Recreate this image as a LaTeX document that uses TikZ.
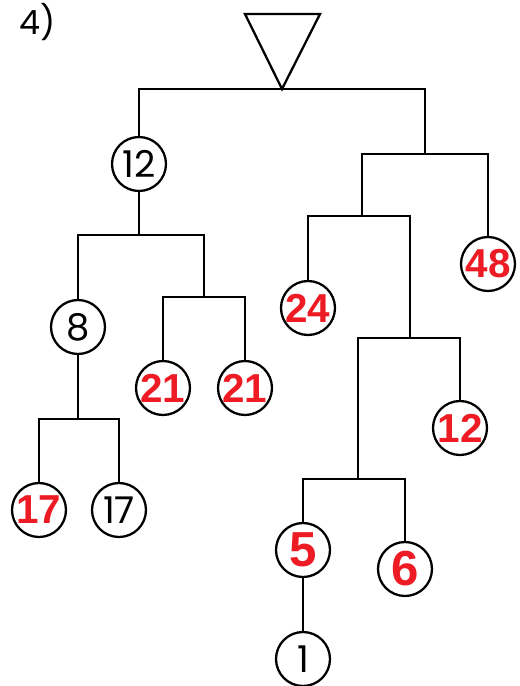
\documentclass[tikz,border=0pt]{standalone}
\usepackage{fontspec}
\setmainfont{Liberation Sans}
\newfontfamily\geofont{Poppins}
\usepackage{tikz}
\definecolor{MarkRed}{HTML}{ED1C24}

\begin{document}
\begin{tikzpicture}[x=0.02cm,y=-0.02cm,line width=1.3pt,
  ball/.style={draw,circle,minimum size=1.08cm,inner sep=0pt,fill=white},
  plainnum/.style={ball,font=\geofont\fontsize{21}{21}\selectfont},
  rednum/.style={ball,text=MarkRed,font=\bfseries\fontsize{23}{23}\selectfont},
  bignum/.style={ball,text=MarkRed,font=\bfseries\fontsize{28}{28}\selectfont}]
\path[use as bounding box] (0,0) rectangle (520,686);
\node[anchor=west,inner sep=0pt,font=\geofont\fontsize{19}{19}\selectfont] (title) at (18,22) {4)};
% top marker and bar junctions
\draw (245,14) -- (320,14) -- (282,89) -- cycle;
\coordinate (j0) at (282,89);
\coordinate (jA) at (139,235);
\coordinate (jB) at (204,297);
\coordinate (jC) at (78,419);
\coordinate (jD) at (425,154);
\coordinate (jE) at (362,216);
\coordinate (jF) at (410,338);
\coordinate (jG) at (358,479);
% left part
\node[plainnum] (n12) at (139,164) {12};
\node[plainnum] (n8) at (78,327) {8};
\node[rednum] (a21) at (163,388) {21};
\node[rednum] (b21) at (245,388) {21};
\node[rednum] (r17) at (39,510) {17};
\node[plainnum] (k17) at (119,510) {17};
% right part
\node[rednum] (n48) at (488,264) {48};
\node[rednum] (n24) at (308,308) {24};
\node[rednum] (m12) at (460,428) {12};
\node[bignum] (n5) at (303,550) {5};
\node[bignum] (n6) at (405,569) {6};
\node[plainnum] (n1) at (303,659) {1};
% connectors
\draw (n12.north) |- (j0) -| (jD);
\draw (n12.south) -- (jA);
\draw (n8.north) |- (jA) -| (jB);
\draw (a21.north) |- (jB) -| (b21.north);
\draw (n8.south) -- (jC);
\draw (r17.north) |- (jC) -| (k17.north);
\draw (jE) |- (jD) -| (n48.north);
\draw (n24.north) |- (jE) -| (jF);
\draw (jG) |- (jF) -| (m12.north);
\draw (n5.north) |- (jG) -| (n6.north);
\draw (n5.south) -- (n1.north);
\end{tikzpicture}
\end{document}
